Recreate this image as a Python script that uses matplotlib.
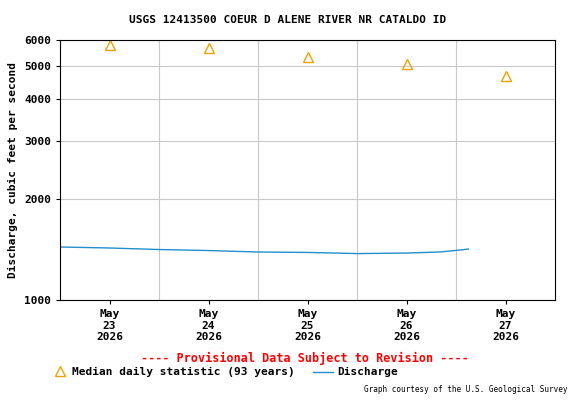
import numpy as np
import matplotlib
matplotlib.use("Agg")
import matplotlib.pyplot as plt
from datetime import datetime, timedelta

# median daily statistic (at noon of each day)
median_days = ["2026-05-23", "2026-05-24", "2026-05-25", "2026-05-26", "2026-05-27"]
median_vals = [5800, 5680, 5340, 5090, 4690]

# discharge, hours since 2026-05-23 00:00
q_hours = [0, 12, 24, 36, 48, 60, 72, 84, 92, 97, 99]
q_vals = [1441, 1431, 1416, 1406, 1392, 1388, 1377, 1382, 1392, 1411, 1421]

t0 = datetime(2026, 5, 23)
qt = [t0 + timedelta(hours=h) for h in q_hours]
mt = [datetime.strptime(d, "%Y-%m-%d") + timedelta(hours=12) for d in median_days]

plt.rcParams['font.family'] = ['DejaVu Sans Mono']
plt.rcParams['font.weight'] = 'bold'
fig = plt.figure(figsize=(5.76, 4.0), dpi=100)
ax = fig.add_axes([60/576, 0.25, 495/576, 0.65])
ax.set_yscale('log')
ax.set_ylim(1000, 6000)
ax.set_xlim(t0, t0 + timedelta(days=5))
yt = [1000, 2000, 3000, 4000, 5000, 6000]
ax.set_yticks(yt)
ax.set_yticklabels([str(v) for v in yt], fontsize=8)
ax.yaxis.set_minor_locator(matplotlib.ticker.NullLocator())
ax.grid(True, axis='y', color='#c8c8c8', lw=0.8)
for d in range(1, 5):
    ax.axvline(t0 + timedelta(days=d), color='#c8c8c8', lw=0.8)
ax.set_xticks(mt)
ax.set_xticklabels([d.strftime("May\n%d\n%Y") for d in mt], fontsize=8)
ax.tick_params(length=3)
ax.plot(qt, q_vals, color='#1f8fd0', lw=1)
ax.plot(mt, median_vals, '^', mfc='none', mec='#f0a000', ms=7, mew=1)
ax.set_ylabel("Discharge, cubic feet per second", fontsize=8, weight='bold')
fig.text(0.5, 0.95, "USGS 12413500 COEUR D ALENE RIVER NR CATALDO ID", ha='center', va='center', fontsize=8)
fig.text(0.53, 1-358/400, "---- Provisional Data Subject to Revision ----", ha='center', va='center', fontsize=8.5, color='red')
fig.add_artist(matplotlib.lines.Line2D([60/576], [1-371/400], marker='^', mfc='none', mec='#f0a000', ms=7, mew=1))
fig.text(72/576, 1-372/400, "Median daily statistic (93 years)", va='center', fontsize=8)
fig.add_artist(matplotlib.lines.Line2D([313/576, 333/576], [1-372/400]*2, color='#1f8fd0', lw=1))
fig.text(337/576, 1-372/400, "Discharge", va='center', fontsize=8)
fig.text(568/576, 1-390/400, "Graph courtesy of the U.S. Geological Survey", ha='right', va='center', fontsize=5.5, weight='normal')
fig.savefig("out.png", dpi=100)
